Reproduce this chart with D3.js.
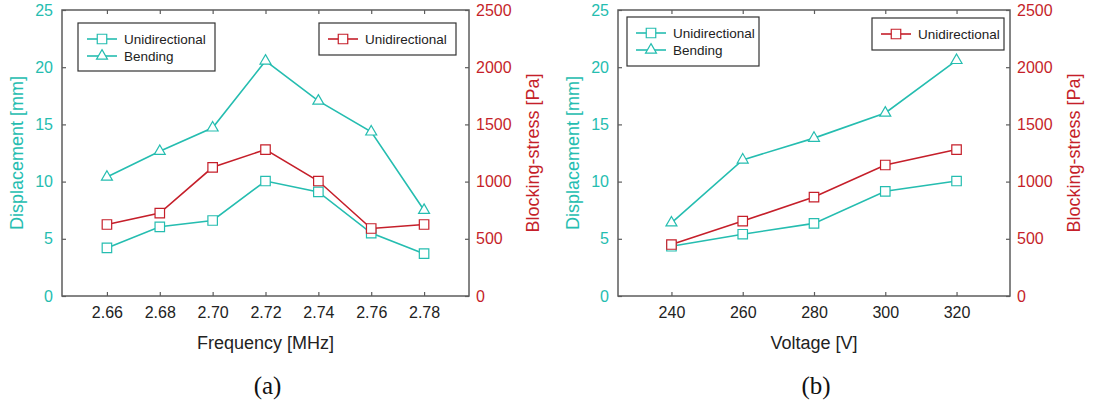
<!DOCTYPE html>
<html>
<head>
<meta charset="utf-8">
<script src="https://cdn.jsdelivr.net/npm/d3@7"></script>
<style>
  body { margin: 0; background: #fff; }
  svg { display: block; font-family: "Liberation Sans", Arial, sans-serif; }
</style>
</head>
<body>
<div class="chart"></div>
<script>
// (a) frequency sweep
const freq = [2.66, 2.68, 2.70, 2.72, 2.74, 2.76, 2.78]
const freqDispUni = [4.2, 6.05, 6.6, 10.05, 9.1, 5.5, 3.7]
const freqDispBend = [10.4, 12.65, 14.7, 20.55, 17.05, 14.35, 7.5]
const freqStressUni = [625, 725, 1125, 1280, 1005, 590, 625]

// (b) voltage sweep
const volt = [240, 260, 280, 300, 320]
const voltDispUni = [4.35, 5.4, 6.35, 9.15, 10.05]
const voltDispBend = [6.4, 11.9, 13.8, 16.0, 20.6]
const voltStressUni = [450, 655, 865, 1145, 1280]

const dispTicks = [0, 5, 10, 15, 20, 25]
const stressTicks = [0, 500, 1000, 1500, 2000, 2500]
const legendNames = ["Unidirectional", "Bending"]

const teal = "#25bdb0"
const red = "#c51f2a"
const frameColor = "#5c5c5c"

const svg = d3.select('.chart')
  .append('svg')
  .attr('width', 1103)
  .attr('height', 404)

function drawPanel(p) {
  const top = 10, bottom = 296
  const g = svg.append('g')

  const x = d3.scaleLinear().domain(p.xDomain).range([p.left, p.right])
  const y = d3.scaleLinear().domain([0, 25]).range([bottom, top])
  const y2 = d3.scaleLinear().domain([0, 2500]).range([bottom, top])

  // 軸線 (刻度朝內)
  const bx = g.append('g')
    .attr('transform', `translate(0, ${bottom})`)
    .call(d3.axisBottom(x).tickValues(p.xs).tickFormat(p.fmt).tickSize(-4).tickPadding(11))
  const tx = g.append('g')
    .attr('transform', `translate(0, ${top})`)
    .call(d3.axisTop(x).tickValues(p.xs).tickFormat('').tickSize(-4))
  const ly = g.append('g')
    .attr('transform', `translate(${p.left}, 0)`)
    .call(d3.axisLeft(y).tickValues(dispTicks).tickFormat(d3.format('d')).tickSize(-4).tickPadding(9))
  const ry = g.append('g')
    .attr('transform', `translate(${p.right}, 0)`)
    .call(d3.axisRight(y2).tickValues(stressTicks).tickFormat(d3.format('d')).tickSize(-4).tickPadding(7))

  ;[bx, tx, ly, ry].forEach(a => {
    a.select('.domain').remove()
    a.selectAll('line').attr('stroke', frameColor).attr('stroke-width', 1.2)
    a.selectAll('text').style('font-size', '16px').attr('font-family', null)
  })
  bx.selectAll('text').attr('fill', '#222')
  ly.selectAll('text').attr('fill', teal)
  ry.selectAll('text').attr('fill', red)

  // 外框
  g.append('rect')
    .attr('x', p.left).attr('y', top)
    .attr('width', p.right - p.left).attr('height', bottom - top)
    .attr('fill', 'none')
    .attr('stroke', frameColor)
    .attr('stroke-width', 1.5)

  // 標題
  g.append('text')
    .attr('x', (p.left + p.right) / 2).attr('y', 343)
    .attr('text-anchor', 'middle').attr('dominant-baseline', 'central')
    .style('font-size', '18px').attr('fill', '#222')
    .text(p.xTitle)
  g.append('text')
    .attr('transform', `translate(${p.left - 45}, ${(top + bottom) / 2}) rotate(-90)`)
    .attr('text-anchor', 'middle').attr('dominant-baseline', 'central')
    .style('font-size', '18px').attr('fill', teal)
    .text("Displacement [mm]")
  g.append('text')
    .attr('transform', `translate(${p.right + 64}, ${(top + bottom) / 2}) rotate(-90)`)
    .attr('text-anchor', 'middle').attr('dominant-baseline', 'central')
    .style('font-size', '18px').attr('fill', red)
    .text("Blocking-stress [Pa]")
  g.append('text')
    .attr('x', (p.left + p.right) / 2 + 2).attr('y', 385)
    .attr('text-anchor', 'middle').attr('dominant-baseline', 'central')
    .style('font-family', '"Liberation Serif", "Times New Roman", serif')
    .style('font-size', '25px').attr('fill', '#111')
    .text(p.label)

  const square = d3.symbol().type(d3.symbolSquare).size(90)
  const triangle = d3.symbol().type(d3.symbolTriangle).size(52)

  function series(vals, scale, color, sym) {
    const pts = p.xs.map((v, i) => [x(v), scale(vals[i])])
    g.append('path')
      .attr('d', d3.line()(pts))
      .attr('fill', 'none')
      .attr('stroke', color)
      .attr('stroke-width', 1.6)
    g.append('g')
      .selectAll('path')
      .data(pts)
      .enter()
      .append('path')
      .attr('transform', d => `translate(${d[0]}, ${d[1]})`)
      .attr('d', sym)
      .attr('fill', '#fff')
      .attr('stroke', color)
      .attr('stroke-width', 1.2)
  }

  series(p.dispUni, y, teal, square)
  series(p.dispBend, y, teal, triangle)
  series(p.stressUni, y2, red, square)

  // 圖例
  function legend(box, rows) {
    g.append('rect')
      .attr('x', box[0]).attr('y', box[1])
      .attr('width', box[2]).attr('height', box[3])
      .attr('fill', '#fff').attr('stroke', '#333').attr('stroke-width', 1.2)
    rows.forEach(r => {
      const lx = box[0] + 9
      g.append('line')
        .attr('x1', lx).attr('x2', lx + 30)
        .attr('y1', r.y).attr('y2', r.y)
        .attr('stroke', r.color).attr('stroke-width', 1.6)
      g.append('path')
        .attr('transform', `translate(${lx + 15}, ${r.y})`)
        .attr('d', r.sym)
        .attr('fill', '#fff').attr('stroke', r.color).attr('stroke-width', 1.2)
      g.append('text')
        .attr('x', box[0] + 46).attr('y', r.y)
        .attr('dominant-baseline', 'central')
        .style('font-size', '13.5px').attr('fill', '#222')
        .text(r.name)
    })
  }

  legend(p.box1, [
    { y: p.box1[1] + 16, color: teal, sym: square, name: legendNames[0] },
    { y: p.box1[1] + 33, color: teal, sym: triangle, name: legendNames[1] }
  ])
  legend(p.box2, [
    { y: p.box2[1] + 16, color: red, sym: square, name: legendNames[0] }
  ])
}

drawPanel({
  left: 62, right: 469,
  xDomain: [2.643, 2.797],
  xs: freq, fmt: d3.format('.2f'),
  dispUni: freqDispUni, dispBend: freqDispBend, stressUni: freqStressUni,
  xTitle: "Frequency [MHz]", label: "(a)",
  box1: [78, 23, 137, 48],
  box2: [319, 23, 137, 32]
})

drawPanel({
  left: 618, right: 1010,
  xDomain: [225, 335],
  xs: volt, fmt: d3.format('d'),
  dispUni: voltDispUni, dispBend: voltDispBend, stressUni: voltStressUni,
  xTitle: "Voltage [V]", label: "(b)",
  box1: [627, 17, 132, 49],
  box2: [872, 18, 132, 32]
})
</script>
</body>
</html>
